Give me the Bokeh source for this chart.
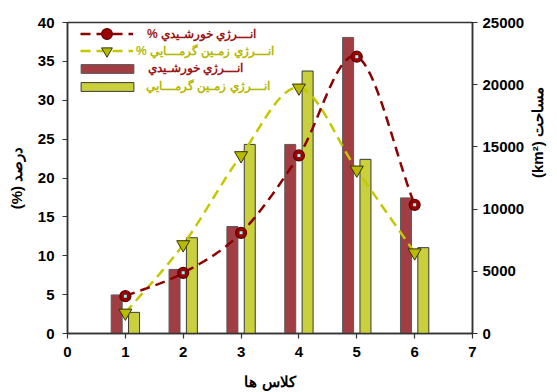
import math
import numpy as np
from bokeh.plotting import figure
from bokeh.models import (Range1d, LinearAxis, Legend, LegendItem, FixedTicker,
                          ColumnDataSource)
from bokeh.transform import dodge
from bokeh.embed import file_html
from bokeh.resources import INLINE

# class index on the x axis
classes = [1, 2, 3, 4, 5, 6]
# area of each class (km2), right axis
solar_area = [3100, 5150, 8600, 15200, 23800, 10900]
geo_area = [1700, 7700, 15200, 21100, 14000, 6900]
# share of each class (%), left axis
solar_pct = [4.8, 7.8, 12.95, 22.9, 35.6, 16.55]
geo_pct = [2.65, 11.45, 22.9, 31.6, 21.05, 10.4]

x_ticks = [0, 1, 2, 3, 4, 5, 6, 7]
pct_ticks = [0, 5, 10, 15, 20, 25, 30, 35, 40]
area_ticks = [0, 5000, 10000, 15000, 20000, 25000]

lbl_solar_pct = "% انـــرژي خورشـيدي"
lbl_geo_pct = "% انـــرژي زمـين گرمـــايي"
lbl_solar = "انـــرژي خورشـيدي"
lbl_geo = "انـــرژي زمـين گرمـــايي"

RED_BAR = "#A03E43"
GREEN_BAR = "#C9D03C"
RED_LINE = "#8B0000"
GREEN_LINE = "#C4C800"
FONT = "Liberation Sans"


def catmull_rom(xs, ys, n=30):
    """Smooth curve through the given points (uniform Catmull-Rom)."""
    xs = np.asarray(xs, float)
    ys = np.asarray(ys, float)
    px = np.concatenate([[2 * xs[0] - xs[1]], xs, [2 * xs[-1] - xs[-2]]])
    py = np.concatenate([[2 * ys[0] - ys[1]], ys, [2 * ys[-1] - ys[-2]]])
    t = np.linspace(0, 1, n, endpoint=False)
    ox, oy = [], []
    for i in range(1, len(px) - 2):
        for arr, out in ((px, ox), (py, oy)):
            p0, p1, p2, p3 = arr[i - 1], arr[i], arr[i + 1], arr[i + 2]
            out.extend(0.5 * (2 * p1 + (-p0 + p2) * t
                              + (2 * p0 - 5 * p1 + 4 * p2 - p3) * t ** 2
                              + (-p0 + 3 * p1 - 3 * p2 + p3) * t ** 3))
    ox.append(xs[-1])
    oy.append(ys[-1])
    return ox, oy


src = ColumnDataSource(dict(cls=classes, solar_area=solar_area, geo_area=geo_area,
                            solar_pct=solar_pct, geo_pct=geo_pct))

p = figure(width=557, height=392, x_range=Range1d(0, 7), y_range=Range1d(0, 40),
           output_backend="svg", toolbar_location=None,
           min_border_left=67, min_border_right=84, min_border_top=22, min_border_bottom=59)
p.extra_y_ranges = {"area": Range1d(0, 25000)}
p.xgrid.visible = False
p.ygrid.visible = False
p.outline_line_color = "#333333"
p.outline_line_width = 1.5
p.background_fill_color = "white"
p.border_fill_color = "white"

# bars on the area axis
r_bar_solar = p.vbar(x=dodge("cls", -0.15), top="solar_area", width=0.19, source=src,
                     y_range_name="area", fill_color=RED_BAR, line_color="#5a5a5a", line_width=1)
r_bar_geo = p.vbar(x=dodge("cls", 0.15), top="geo_area", width=0.19, source=src,
                   y_range_name="area", fill_color=GREEN_BAR, line_color="#3a3a3a", line_width=1)

# smoothed percentage curves
sx, sy = catmull_rom(classes, solar_pct)
gx, gy = catmull_rom(classes, geo_pct)
r_line_geo = p.line(gx, gy, line_color=GREEN_LINE, line_width=2.5, line_dash="10 6")
r_line_solar = p.line(sx, sy, line_color=RED_LINE, line_width=2.5, line_dash="10 6")

r_mk_geo = p.scatter("cls", "geo_pct", source=src, marker="inverted_triangle", size=13,
                     fill_color="#B8BA00", line_color="#333300", line_width=1)
r_mk_solar = p.scatter("cls", "solar_pct", source=src, marker="circle", size=11,
                       fill_color="#9A0000", line_color="#600000", line_width=1.2)
p.scatter("cls", "solar_pct", source=src, marker="square", size=3,
          fill_color="#7FFFFF", line_color=None)

# axes
right_axis = LinearAxis(y_range_name="area")
p.add_layout(right_axis, "right")

for ax in (p.xaxis[0], p.yaxis[0], right_axis):
    ax.axis_line_color = "#333333"
    ax.axis_line_width = 1.5
    ax.major_tick_line_color = "#333333"
    ax.major_tick_line_width = 1.2
    ax.major_tick_out = 5
    ax.major_tick_in = 0
    ax.minor_tick_line_color = None
    ax.major_label_text_font = FONT
    ax.major_label_text_font_style = "bold"
    ax.major_label_text_font_size = "15px"
    ax.major_label_text_color = "black"
    ax.axis_label_text_font = FONT
    ax.axis_label_text_font_style = "bold"
    ax.axis_label_text_font_size = "15px"
    ax.axis_label_text_color = "black"

p.xaxis.ticker = FixedTicker(ticks=x_ticks)
p.yaxis[0].ticker = FixedTicker(ticks=pct_ticks)
right_axis.ticker = FixedTicker(ticks=area_ticks)

p.xaxis.axis_label = "كلاس ها"
p.yaxis[0].axis_label = "(%) درصد"
right_axis.axis_label = "(km²) مساحت"
right_axis.axis_label_orientation = math.pi / 2
p.xaxis.major_label_standoff = 8
p.yaxis[0].major_label_standoff = 8
right_axis.major_label_standoff = 5
p.xaxis.axis_label_standoff = 13
p.yaxis[0].axis_label_standoff = 10
right_axis.axis_label_standoff = 10


def add_legend(label, renderers, color, x, bottom, standoff, glyph_w, glyph_h):
    lg = Legend(items=[LegendItem(label=label, renderers=renderers)], location=(x, bottom),
                background_fill_alpha=0, border_line_alpha=0, padding=0, margin=0, spacing=0,
                glyph_width=glyph_w, glyph_height=glyph_h, label_height=14,
                label_standoff=standoff, label_text_color=color,
                label_text_font=FONT, label_text_font_style="bold",
                label_text_font_size="12px")
    p.add_layout(lg)


add_legend(lbl_solar_pct, [r_line_solar, r_mk_solar], "#9A1515", 13, 286, 14, 53, 27)
add_legend(lbl_geo_pct, [r_line_geo, r_mk_geo], "#B5B800", 13, 269, 3, 53, 27)
add_legend(lbl_solar, [r_bar_solar], "#9A1515", 7, 258, 8, 66, 11)
add_legend(lbl_geo, [r_bar_geo], "#B5B800", 7, 240, 6, 66, 11)

open("out.html", "w").write(file_html(p, INLINE))
